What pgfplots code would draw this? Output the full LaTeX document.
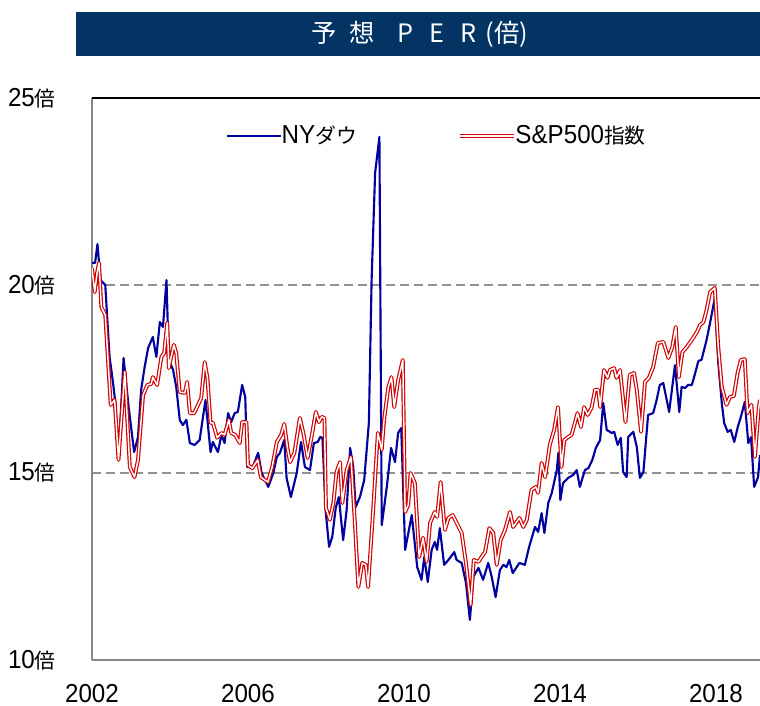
\documentclass[border=0pt]{standalone}
\usepackage{fontspec}
\usepackage{pgfplots}
\pgfplotsset{compat=1.18}
\setmainfont{Liberation Sans}[FakeStretch=0.93]
\newfontfamily\cjk{Noto Sans CJK JP}[Scale=0.8]
\newfontfamily\cjktitle{Noto Sans CJK JP}
\definecolor{navy}{RGB}{3,52,100}
\definecolor{dowblue}{RGB}{0,0,160}
\definecolor{spred}{RGB}{210,0,0}
\definecolor{gridgray}{RGB}{145,145,145}
\definecolor{axgray}{RGB}{135,135,135}

\pgfplotstableread{
year per
2002.00 20.60
2002.08 20.60
2002.14 21.10
2002.22 20.14
2002.34 20.01
2002.45 18.10
2002.54 17.39
2002.60 16.86
2002.68 15.34
2002.81 18.06
2002.94 16.75
2003.08 15.55
2003.18 15.95
2003.26 17.21
2003.35 17.82
2003.44 18.33
2003.56 18.62
2003.65 18.09
2003.74 19.02
2003.82 18.89
2003.91 20.14
2003.97 18.01
2004.08 17.74
2004.16 17.29
2004.25 16.41
2004.33 16.27
2004.42 16.41
2004.51 15.79
2004.63 15.74
2004.76 15.87
2004.91 16.94
2005.04 15.55
2005.10 15.82
2005.23 15.55
2005.32 16.01
2005.40 15.79
2005.49 16.59
2005.57 16.35
2005.66 16.59
2005.74 16.62
2005.85 17.34
2005.93 17.02
2005.98 15.15
2006.08 15.15
2006.14 15.20
2006.26 15.53
2006.35 14.99
2006.52 14.62
2006.65 14.99
2006.74 15.42
2006.82 15.53
2006.93 15.87
2006.99 14.86
2007.10 14.35
2007.25 14.99
2007.36 15.82
2007.46 15.15
2007.59 15.07
2007.69 15.79
2007.79 15.82
2007.85 15.95
2007.91 15.93
2007.99 14.00
2008.08 13.02
2008.16 13.28
2008.25 14.06
2008.33 14.35
2008.44 13.20
2008.53 14.00
2008.62 15.66
2008.70 15.15
2008.76 14.08
2008.87 14.35
2008.98 14.80
2009.10 16.33
2009.17 20.14
2009.26 23.00
2009.37 23.96
2009.43 13.60
2009.56 14.62
2009.67 15.66
2009.77 15.28
2009.85 16.06
2009.93 16.19
2010.03 12.94
2010.20 13.87
2010.34 12.48
2010.45 12.14
2010.52 12.75
2010.61 12.08
2010.71 12.94
2010.79 13.15
2010.85 12.94
2010.92 13.52
2011.03 12.54
2011.14 12.67
2011.29 12.88
2011.35 12.67
2011.48 12.59
2011.59 12.06
2011.69 11.07
2011.78 12.22
2011.91 12.46
2012.03 12.14
2012.16 12.59
2012.25 12.22
2012.35 11.68
2012.46 12.40
2012.55 12.54
2012.63 12.48
2012.70 12.67
2012.79 12.32
2012.89 12.48
2012.96 12.59
2013.10 12.54
2013.21 13.02
2013.36 13.55
2013.44 13.42
2013.53 13.92
2013.60 13.39
2013.70 14.19
2013.79 14.46
2013.92 15.07
2013.96 15.53
2014.01 14.27
2014.08 14.72
2014.21 14.86
2014.34 14.94
2014.43 15.07
2014.51 14.62
2014.64 15.07
2014.73 15.12
2014.83 15.34
2014.92 15.66
2015.03 15.87
2015.11 16.86
2015.20 16.14
2015.33 16.06
2015.39 16.09
2015.48 15.74
2015.56 15.93
2015.62 15.02
2015.71 14.88
2015.75 15.95
2015.88 16.09
2015.97 15.69
2016.05 14.86
2016.14 15.02
2016.26 16.54
2016.39 16.59
2016.48 16.94
2016.56 17.34
2016.65 17.39
2016.80 16.62
2016.95 17.87
2017.06 16.62
2017.12 17.29
2017.21 17.26
2017.29 17.34
2017.38 17.34
2017.44 17.55
2017.55 17.98
2017.63 18.01
2017.76 18.54
2017.85 19.00
2017.97 19.66
2018.06 17.93
2018.15 16.86
2018.21 16.33
2018.30 16.09
2018.38 16.14
2018.47 15.82
2018.56 16.22
2018.64 16.49
2018.74 16.89
2018.83 15.79
2018.90 15.95
2018.98 14.62
2019.08 14.88
2019.13 15.47
}\dowdata

\pgfplotstableread{
year per
2002.00 20.46
2002.07 19.82
2002.13 20.33
2002.18 20.60
2002.24 19.42
2002.34 19.21
2002.48 16.81
2002.58 16.94
2002.68 15.34
2002.84 17.69
2002.97 15.15
2003.09 14.88
2003.18 15.34
2003.31 17.07
2003.42 17.34
2003.52 17.37
2003.56 17.55
2003.67 17.34
2003.78 18.09
2003.85 18.19
2003.93 19.00
2003.97 17.79
2004.03 18.09
2004.10 18.41
2004.16 18.19
2004.25 17.15
2004.38 17.13
2004.44 17.42
2004.51 16.59
2004.62 16.59
2004.72 16.81
2004.80 16.99
2004.89 17.95
2004.96 17.53
2005.04 16.33
2005.10 16.33
2005.21 15.93
2005.32 16.06
2005.40 16.01
2005.51 16.41
2005.57 16.06
2005.67 16.01
2005.79 15.79
2005.85 16.35
2005.96 16.35
2006.00 15.20
2006.11 15.12
2006.25 15.34
2006.33 14.88
2006.51 14.75
2006.62 15.15
2006.74 15.82
2006.85 16.01
2006.93 16.30
2007.02 15.61
2007.08 15.28
2007.19 15.53
2007.33 16.46
2007.42 16.06
2007.53 15.39
2007.63 15.95
2007.74 16.62
2007.82 16.35
2007.89 16.49
2007.96 16.46
2008.00 14.06
2008.10 13.74
2008.19 14.19
2008.27 15.02
2008.36 15.28
2008.42 14.19
2008.53 15.07
2008.64 15.42
2008.74 13.68
2008.83 11.95
2008.93 12.59
2009.02 12.54
2009.08 11.95
2009.21 14.00
2009.33 16.06
2009.43 15.61
2009.49 16.41
2009.60 17.29
2009.68 17.55
2009.75 16.75
2009.85 17.47
2009.97 18.01
2010.03 13.95
2010.11 14.14
2010.17 14.99
2010.28 14.72
2010.39 12.75
2010.49 13.26
2010.58 12.62
2010.67 13.66
2010.79 13.95
2010.85 13.82
2010.94 14.75
2011.05 13.47
2011.14 13.79
2011.25 13.87
2011.35 13.66
2011.48 13.39
2011.59 12.59
2011.71 11.47
2011.79 12.67
2011.91 12.62
2011.99 12.75
2012.08 12.88
2012.19 13.52
2012.29 13.39
2012.38 12.54
2012.48 13.20
2012.59 13.47
2012.72 13.95
2012.80 13.55
2012.96 13.79
2013.06 13.55
2013.15 13.74
2013.27 14.54
2013.38 14.62
2013.44 14.46
2013.53 15.26
2013.62 14.88
2013.74 15.74
2013.85 16.14
2013.95 16.75
2014.04 15.15
2014.11 15.87
2014.21 15.95
2014.30 16.01
2014.45 16.59
2014.54 16.22
2014.62 16.75
2014.71 16.54
2014.81 16.73
2014.90 17.21
2014.98 17.21
2015.03 16.75
2015.13 17.74
2015.22 17.53
2015.28 17.74
2015.39 17.79
2015.45 17.53
2015.54 17.74
2015.68 16.35
2015.79 17.61
2015.90 17.66
2015.97 17.21
2016.08 16.09
2016.18 17.42
2016.28 17.53
2016.39 17.82
2016.51 18.46
2016.65 18.49
2016.78 18.06
2016.88 18.35
2016.97 18.89
2017.05 17.55
2017.14 18.22
2017.25 18.35
2017.38 18.54
2017.51 18.75
2017.59 18.94
2017.68 19.02
2017.76 19.34
2017.85 19.82
2017.97 19.93
2018.06 18.35
2018.15 17.29
2018.27 16.81
2018.36 17.02
2018.46 17.05
2018.56 17.69
2018.64 18.01
2018.74 18.03
2018.81 16.59
2018.91 16.81
2019.00 15.42
2019.10 16.75
2019.13 16.94
}\spdata

\begin{document}
\fontsize{19.5pt}{22pt}\selectfont
\begin{tikzpicture}[x=0.75pt,y=0.75pt]
\useasboundingbox (0,0) rectangle (760,706);
\coordinate (axorigin) at (92,46);
\fill[navy] (76,650) rectangle (760,694);
\node[text=white, inner sep=0pt] at (420,672) {\cjktitle\fontsize{19pt}{22pt}\selectfont 予\hspace{9pt}想\hspace{17pt}P\hspace{12pt}E\hspace{12pt}R\hspace{7pt}(倍)};
\begin{axis}[
  at={(axorigin)}, anchor=south west,
  scale only axis, width=501pt, height=421.5pt,
  xmin=2002, xmax=2019.13, ymin=10, ymax=25,
  axis x line*=bottom, axis y line*=left,
  axis line style={-, draw=axgray, line width=1.5pt},
  major tick length=0pt,
  xtick={2002,2006,2010,2014,2018},
  xticklabels={2002,2006,2010,2014,2018},
  ytick={10,15,20},
  yticklabels={10{\cjk 倍},15{\cjk 倍},20{\cjk 倍}},
  extra y ticks={25},
  extra y tick labels={25{\cjk 倍}},
  extra y tick style={grid style={solid, draw=black, line width=1.5pt}},
  ymajorgrids,
  grid style={draw=gridgray, line width=1.5pt, dash pattern=on 6.75pt off 3.75pt},
  yticklabel style={anchor=east, inner sep=0pt, xshift=-27pt},
  xticklabel style={anchor=north, inner sep=0pt, yshift=-18pt},
  legend columns=2,
  legend style={draw=none, fill=none, inner sep=0pt, at={(0.2006,0.932)}, anchor=west,
    /tikz/every even column/.append style={column sep=76pt},
    nodes={inner sep=0pt, anchor=west, xshift=4pt}},
  legend image code/.code={\draw[#1] (0pt,0pt) -- (40pt,0pt);},
  clip=true,
]
\addplot[dowblue, line width=1.6pt, line join=round] table[x=year,y=per] {\dowdata};
\addlegendentry{NY{\cjk ダウ}}
\addplot[spred, line width=0.9pt, double=white, double distance=1.1pt, line join=round] table[x=year,y=per] {\spdata};
\addlegendentry{S\&P500{\cjk 指数}}
\end{axis}
\end{tikzpicture}
\end{document}
